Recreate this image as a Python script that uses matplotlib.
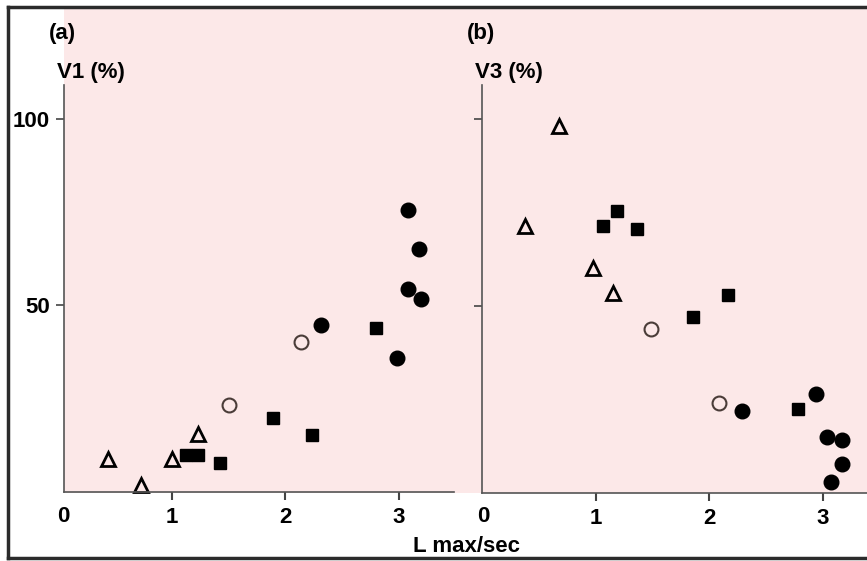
import matplotlib
matplotlib.use("Agg")
import matplotlib.pyplot as plt
from matplotlib.patches import Rectangle
from matplotlib.lines import Line2D

plt.rcParams['font.family'] = ['Liberation Sans', 'DejaVu Sans']
plt.rcParams['font.weight'] = 'bold'

# panel (a): V1 (%) against L max/sec
a_tri_x = [0.44, 0.73, 1.00, 1.23]
a_tri_y = [8.8, 1.9, 8.8, 15.5]
a_sq_x = [1.12, 1.23, 1.42, 1.89, 2.23, 2.80]
a_sq_y = [9.9, 9.9, 7.8, 19.8, 15.2, 43.9]
a_oc_x = [1.50, 2.14]
a_oc_y = [23.3, 40.1]
a_fc_x = [2.31, 2.98, 3.08, 3.19, 3.08, 3.18]
a_fc_y = [44.7, 35.8, 54.3, 51.6, 75.4, 65.0]

# panel (b): V3 (%) against L max/sec
b_tri_x = [0.68, 0.38, 0.98, 1.15]
b_tri_y = [98.1, 71.4, 60.2, 53.5]
b_sq_x = [1.06, 1.19, 1.36, 2.16, 1.86, 2.78]
b_sq_y = [71.4, 75.4, 70.6, 52.9, 47.1, 22.5]
b_oc_x = [1.49, 2.08]
b_oc_y = [43.9, 24.1]
b_fc_x = [2.29, 2.94, 3.03, 3.17, 3.17, 3.07]
b_fc_y = [21.9, 26.5, 15.0, 14.2, 7.8, 2.9]

x_ticks = [1, 2, 3]
y_ticks = [50, 100]

W, H = 867, 561
fs = 16
fig = plt.figure(figsize=(W / 100, H / 100), dpi=100)

def fx(px):
    return px / W

def fy(py):
    return 1 - py / H

# pink background behind both panels
fig.patches.append(Rectangle((fx(64), fy(493)), fx(867) - fx(64), fy(8) - fy(493),
                             transform=fig.transFigure, facecolor='#fce8e8',
                             edgecolor='none', zorder=-5))
# outer frame
for xs, ys in [([8, 8], [7, 558]), ([8, 867], [7, 7]), ([8, 867], [558, 558])]:
    fig.lines.append(Line2D([fx(x) for x in xs], [fy(y) for y in ys],
                            transform=fig.transFigure, color='#2b2b2b', lw=2.5, zorder=5))

ax_a = fig.add_axes([fx(64), fy(492), fx(454) - fx(64), fy(85) - fy(492)])
ax_b = fig.add_axes([fx(482), fy(493), fx(867) - fx(482), fy(85) - fy(493)])

def draw(ax, tx, ty, sx, sy, ox, oy, cx, cy):
    ax.set_zorder(2)
    ax.plot(tx, ty, '^', ms=9.5, mfc='none', mec='black', mew=2, ls='none', clip_on=False)
    ax.plot(sx, sy, 's', ms=8.5, mfc='black', mec='black', ls='none', clip_on=False)
    ax.plot(ox, oy, 'o', ms=10, mfc='none', mec='#4a3c38', mew=1.5, ls='none', clip_on=False)
    ax.plot(cx, cy, 'o', ms=10.5, mfc='black', mec='black', ls='none', clip_on=False)
    ax.set_facecolor('none')
    for s in ['top', 'right']:
        ax.spines[s].set_visible(False)
    for s in ['left', 'bottom']:
        ax.spines[s].set_color('#555555')
        ax.spines[s].set_linewidth(1.2)
    ax.set_ylim(0, 109)
    ax.set_xticks(x_ticks)
    ax.set_xticklabels([str(t) for t in x_ticks], fontsize=fs)
    ax.set_yticks(y_ticks)
    ax.tick_params(axis='x', direction='out', length=6, width=1.5, color='#444444', pad=5)
    ax.tick_params(axis='y', direction='out', length=6, width=1.2, color='#444444', pad=4)

draw(ax_a, a_tri_x, a_tri_y, a_sq_x, a_sq_y, a_oc_x, a_oc_y, a_fc_x, a_fc_y)
draw(ax_b, b_tri_x, b_tri_y, b_sq_x, b_sq_y, b_oc_x, b_oc_y, b_fc_x, b_fc_y)

ax_a.set_xlim(0.048, 3.485)
ax_b.set_xlim(0, 3.386)
ax_a.set_yticklabels([str(t) for t in y_ticks], fontsize=fs)
ax_b.set_yticklabels([])

# origin labels
fig.text(fx(63), fy(517), '0', fontsize=fs, ha='center', va='center')
fig.text(fx(483), fy(517), '0', fontsize=fs, ha='center', va='center')

fig.text(fx(49), fy(33), '(a)', fontsize=fs, ha='left', va='center')
fig.text(fx(57), fy(72), 'V1 (%)', fontsize=fs, ha='left', va='center')
fig.text(fx(467), fy(33), '(b)', fontsize=fs, ha='left', va='center')
fig.text(fx(475), fy(72), 'V3 (%)', fontsize=fs, ha='left', va='center')
fig.text(fx(413), fy(547), 'L max/sec', fontsize=fs, ha='left', va='center')

fig.savefig('out.png', dpi=100)
